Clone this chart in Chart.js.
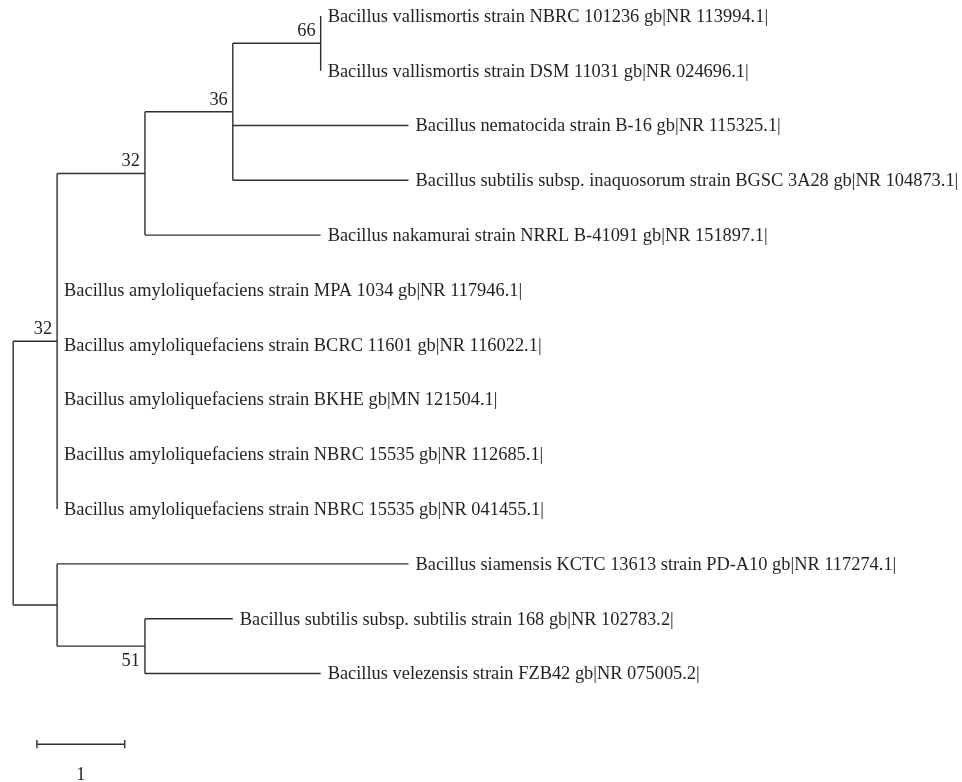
<!DOCTYPE html>
<html>
<head>
<meta charset="utf-8">
<title>Phylogenetic tree</title>
<script src="https://cdn.jsdelivr.net/npm/chart.js@4.4.1/dist/chart.umd.min.js"></script>
<style>
  html, body { margin: 0; padding: 0; background: #fff; }
  canvas { display: block; }
</style>
</head>
<body>
<canvas id="tree-chart" width="962" height="782"></canvas>
<script>
// Taxa, top to bottom (leaf index = row)
const taxa = [
    'Bacillus vallismortis strain NBRC 101236 gb|NR 113994.1|',
    'Bacillus vallismortis strain DSM 11031 gb|NR 024696.1|',
    'Bacillus nematocida strain B-16 gb|NR 115325.1|',
    'Bacillus subtilis subsp. inaquosorum strain BGSC 3A28 gb|NR 104873.1|',
    'Bacillus nakamurai strain NRRL B-41091 gb|NR 151897.1|',
    'Bacillus amyloliquefaciens strain MPA 1034 gb|NR 117946.1|',
    'Bacillus amyloliquefaciens strain BCRC 11601 gb|NR 116022.1|',
    'Bacillus amyloliquefaciens strain BKHE gb|MN 121504.1|',
    'Bacillus amyloliquefaciens strain NBRC 15535 gb|NR 112685.1|',
    'Bacillus amyloliquefaciens strain NBRC 15535 gb|NR 041455.1|',
    'Bacillus siamensis KCTC 13613 strain PD-A10 gb|NR 117274.1|',
    'Bacillus subtilis subsp. subtilis strain 168 gb|NR 102783.2|',
    'Bacillus velezensis strain FZB42 gb|NR 075005.2|'
];
// branch length of each leaf
const leafLengths = [0, 0, 2, 2, 2, 0, 0, 0, 0, 0, 4, 1, 2];

// internal nodes (ids 13..19), children ids and stem lengths; last one is the root
const nodeChildren = [[0, 1], [13, 2, 3], [14, 4], [15, 5, 6, 7, 8, 9], [11, 12], [10, 17], [16, 18]];
const nodeLengths = [1, 1, 1, 0.5, 1, 0.5, 0];

// bootstrap support
const supportNodes = [13, 14, 15, 16, 17];
const supportValues = ['66', '36', '32', '32', '51'];
const supportBelow = [false, false, false, false, true];

// scale bar
const scaleBarStart = 0.27;
const scaleBarLength = 1;
const scaleBarLabel = '1';
const scaleBarRow = 13.29;

const lineColor = '#2e2e2e';
const textColor = '#231f20';
const fontFamily = '"Liberation Serif", "DejaVu Serif", serif';

document.addEventListener('DOMContentLoaded', function() {
    const nLeaf = taxa.length;
    const rootId = nLeaf + nodeChildren.length - 1;
    const lengths = leafLengths.concat(nodeLengths);
    const children = {};
    nodeChildren.forEach(function(c, i) { children[nLeaf + i] = c; });

    // y: leaves by row, internal nodes midway between first and last child
    const posY = [];
    for (let i = 0; i < nLeaf; i++) posY[i] = i;
    nodeChildren.forEach(function(c, i) {
        posY[nLeaf + i] = (posY[c[0]] + posY[c[c.length - 1]]) / 2;
    });

    // x: cumulative branch length from the root
    const posX = [];
    const parentX = [];
    function place(id, px) {
        parentX[id] = px;
        posX[id] = px + lengths[id];
        (children[id] || []).forEach(function(ch) { place(ch, posX[id]); });
    }
    place(rootId, 0);

    const segStyle = {
        borderColor: lineColor,
        borderWidth: 1.4,
        pointRadius: 0,
        fill: false,
        tension: 0
    };
    const datasets = [];
    for (let id = 0; id <= rootId; id++) {
        if (id !== rootId && lengths[id] > 0) {
            datasets.push(Object.assign({
                data: [{ x: parentX[id], y: posY[id] }, { x: posX[id], y: posY[id] }]
            }, segStyle));
        }
        if (children[id]) {
            const c = children[id];
            datasets.push(Object.assign({
                data: [{ x: posX[id], y: posY[c[0]] }, { x: posX[id], y: posY[c[c.length - 1]] }]
            }, segStyle));
        }
    }
    // scale bar with end ticks
    const scaleEnd = scaleBarStart + scaleBarLength;
    datasets.push(Object.assign({
        data: [{ x: scaleBarStart, y: scaleBarRow }, { x: scaleEnd, y: scaleBarRow }]
    }, segStyle));
    [scaleBarStart, scaleEnd].forEach(function(sx) {
        datasets.push(Object.assign({
            data: [{ x: sx, y: scaleBarRow - 0.075 }, { x: sx, y: scaleBarRow + 0.075 }]
        }, segStyle));
    });

    const treeLabels = {
        id: 'treeLabels',
        afterDatasetsDraw: function(chart) {
            const ctx = chart.ctx;
            const xs = chart.scales.x;
            const ys = chart.scales.y;
            ctx.save();
            ctx.fillStyle = textColor;
            ctx.font = '18.4px ' + fontFamily;
            ctx.textBaseline = 'middle';

            ctx.textAlign = 'left';
            taxa.forEach(function(name, i) {
                ctx.fillText(name, xs.getPixelForValue(posX[i]) + 7, ys.getPixelForValue(posY[i]) + 1);
            });

            ctx.textAlign = 'right';
            supportNodes.forEach(function(id, k) {
                const px = xs.getPixelForValue(posX[id]) - 5;
                const py = ys.getPixelForValue(posY[id]) + (supportBelow[k] ? 15 : -12);
                ctx.fillText(supportValues[k], px, py);
            });

            ctx.textAlign = 'center';
            ctx.fillText(scaleBarLabel,
                xs.getPixelForValue(scaleBarStart + scaleBarLength / 2),
                ys.getPixelForValue(scaleBarRow) + 31);
            ctx.restore();
        }
    };

    new Chart(document.getElementById('tree-chart').getContext('2d'), {
        type: 'line',
        data: { datasets: datasets },
        options: {
            responsive: false,
            animation: false,
            parsing: true,
            layout: { padding: 0 },
            plugins: {
                legend: { display: false },
                tooltip: { enabled: false }
            },
            scales: {
                x: { type: 'linear', min: -0.15, max: 10.8, display: false },
                y: { type: 'linear', min: -0.29, max: 13.98, reverse: true, display: false }
            }
        },
        plugins: [treeLabels]
    });
});
</script>
</body>
</html>
